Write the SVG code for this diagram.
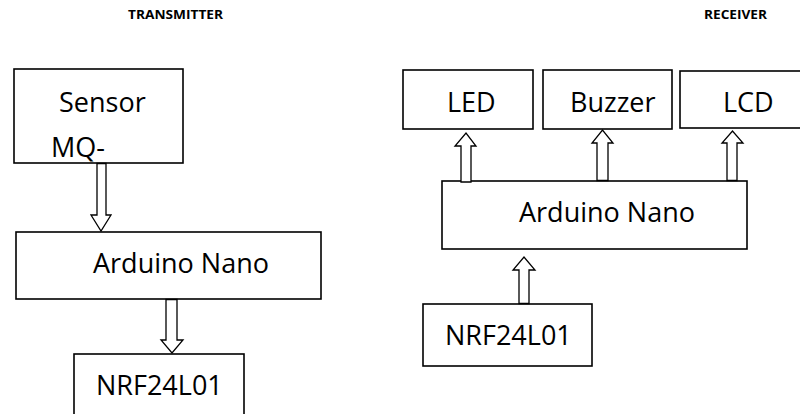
<svg xmlns="http://www.w3.org/2000/svg" width="800" height="414" viewBox="0 0 800 414">
<style>
.box{fill:#fff;stroke:#000;stroke-width:1.6}
.arr{fill:#fff;stroke:#000;stroke-width:1.3;stroke-linejoin:miter}
.t{font-family:"Open Sans","Liberation Sans",sans-serif;font-size:27px;fill:#000}
.h{font-family:"Open Sans","Liberation Sans",sans-serif;font-size:13px;font-weight:bold;fill:#000}
</style>
<rect width="800" height="414" fill="#fff"/>
<text class="h" x="128" y="19" textLength="95" lengthAdjust="spacingAndGlyphs">TRANSMITTER</text>
<text class="h" x="704" y="19" textLength="63" lengthAdjust="spacingAndGlyphs">RECEIVER</text>
<g id="tx-sensor">
<rect class="box" x="14" y="69" width="169" height="94"/>
<text class="t" x="59" y="112">Sensor</text>
<text class="t" x="51" y="157">MQ-</text>
</g>
<g id="tx-arduino">
<rect class="box" x="16" y="232" width="305" height="67"/>
<text class="t" x="93" y="273">Arduino Nano</text>
</g>
<g id="tx-nrf">
<rect class="box" x="74" y="354" width="170" height="70"/>
<text class="t" x="96" y="395">NRF24L01</text>
</g>
<g id="rx-led">
<rect class="box" x="403" y="70" width="130" height="59"/>
<text class="t" x="447" y="112">LED</text>
</g>
<g id="rx-buzzer">
<rect class="box" x="543" y="70" width="129" height="59"/>
<text class="t" x="570" y="112">Buzzer</text>
</g>
<g id="rx-lcd">
<rect class="box" x="680" y="71" width="130" height="57"/>
<text class="t" x="723" y="112">LCD</text>
</g>
<g id="rx-arduino">
<rect class="box" x="442" y="181" width="305" height="68"/>
<text class="t" x="519" y="222">Arduino Nano</text>
</g>
<g id="rx-nrf">
<rect class="box" x="423" y="304" width="169" height="62"/>
<text class="t" x="445" y="345">NRF24L01</text>
</g>
<g id="connectors">
<polygon class="arr" points="97,163.5 106,163.5 106,215 111,215 101,231 91,215 97,215"/>
<polygon class="arr" points="166,299.5 177,299.5 177,340 183,340 172,353 161,340 166,340"/>
<polygon class="arr" points="461,182 471,182 471,146 476,146 466,133 455,146 461,146"/>
<polygon class="arr" points="597,180.5 608,180.5 608,143 613,143 602.5,130 592,143 597,143"/>
<polygon class="arr" points="727,180.5 737,180.5 737,143 743,143 732.5,131 722,143 727,143"/>
<polygon class="arr" points="519,303.5 529,303.5 529,270 535,270 524,257 513,270 519,270"/>
</g>
</svg>
